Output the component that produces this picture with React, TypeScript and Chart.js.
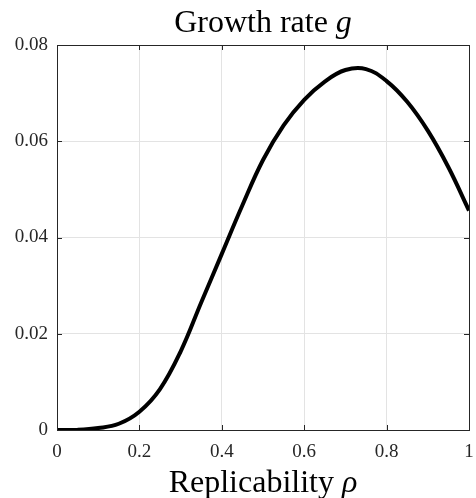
import React, { useEffect, useRef } from "react";
import { Chart, registerables } from "chart.js";

Chart.register(...registerables);

const rhoValues = [0, 0.05, 0.1, 0.15, 0.2, 0.25, 0.3, 0.35, 0.4, 0.45, 0.5, 0.55, 0.6, 0.65, 0.7, 0.75, 0.8, 0.85, 0.9, 0.95, 1.0];
const growthValues = [0, 0.00003, 0.0004, 0.0013, 0.0038, 0.0085, 0.0163, 0.0265, 0.0366, 0.0467, 0.0561, 0.0633, 0.0686, 0.0724, 0.0748, 0.075, 0.0725, 0.0682, 0.0622, 0.0546, 0.0456];
const xTicks = [0, 0.2, 0.4, 0.6, 0.8, 1];
const xTickLabels = ["0", "0.2", "0.4", "0.6", "0.8", "1"];
const yTicks = [0, 0.02, 0.04, 0.06, 0.08];
const yTickLabels = ["0", "0.02", "0.04", "0.06", "0.08"];
const titleMain = "Growth rate ";
const titleVar = "g";
const xLabelMain = "Replicability ";
const xLabelVar = "\u03C1";

const FONT = "'Liberation Serif', 'Times New Roman', serif";
const TEXT = "#262626";

const decorPlugin = {
  id: "decor",
  afterDraw(chart: any) {
    const { ctx, chartArea } = chart;
    const { left, right, top, bottom } = chartArea;
    ctx.save();
    ctx.strokeStyle = TEXT;
    ctx.lineWidth = 1;
    ctx.strokeRect(Math.round(left) + 0.5, Math.round(top) + 0.5, Math.round(right - left), Math.round(bottom - top));
    const xs = chart.scales.x;
    const ys = chart.scales.y;
    const tl = 5;
    ctx.beginPath();
    xTicks.forEach((v) => {
      const px = Math.round(xs.getPixelForValue(v)) + 0.5;
      ctx.moveTo(px, bottom);
      ctx.lineTo(px, bottom - tl);
      ctx.moveTo(px, top);
      ctx.lineTo(px, top + tl);
    });
    yTicks.forEach((v) => {
      const py = Math.round(ys.getPixelForValue(v)) + 0.5;
      ctx.moveTo(left, py);
      ctx.lineTo(left + tl, py);
      ctx.moveTo(right, py);
      ctx.lineTo(right - tl, py);
    });
    ctx.stroke();

    const cx = (left + right) / 2;
    const drawMixed = (a: string, b: string, y: number) => {
      ctx.fillStyle = "#000";
      ctx.textBaseline = "alphabetic";
      ctx.textAlign = "left";
      const fN = `32px ${FONT}`;
      const fI = `italic 32px ${FONT}`;
      ctx.font = fN;
      const wa = ctx.measureText(a).width;
      ctx.font = fI;
      const wb = ctx.measureText(b).width;
      const x0 = cx - (wa + wb) / 2;
      ctx.font = fN;
      ctx.fillText(a, x0, y);
      ctx.font = fI;
      ctx.fillText(b, x0 + wa, y);
    };
    drawMixed(titleMain, titleVar, 32);
    drawMixed(xLabelMain, xLabelVar, 492);
    ctx.restore();
  },
};

export default function App() {
  const ref = useRef<HTMLCanvasElement | null>(null);
  useEffect(() => {
    if (!ref.current) return;
    const chart = new Chart(ref.current, {
      type: "line",
      data: {
        datasets: [
          {
            data: rhoValues.map((x, i) => ({ x, y: growthValues[i] })),
            borderColor: "#000",
            borderWidth: 4,
            pointRadius: 0,
            tension: 0.4,
            fill: false,
          },
        ],
      },
      options: {
        animation: false,
        responsive: false,
        maintainAspectRatio: false,
        layout: { padding: { top: 45, right: 7, left: 0, bottom: 0 } },
        plugins: { legend: { display: false }, title: { display: false }, tooltip: { enabled: false } },
        scales: {
          x: {
            type: "linear",
            min: 0,
            max: 1,
            afterBuildTicks: (s: any) => {
              s.ticks = xTicks.map((v) => ({ value: v }));
            },
            afterFit: (s: any) => {
              s.height = 68;
              s.paddingLeft = 0;
              s.paddingRight = 0;
            },
            grid: { color: "#e3e3e3", lineWidth: 1, drawTicks: false },
            border: { display: false },
            ticks: {
              padding: 11,
              color: TEXT,
              font: { family: FONT, size: 19 },
              maxRotation: 0,
              callback: (v: any) => {
                const i = xTicks.findIndex((t) => Math.abs(t - v) < 1e-9);
                return i >= 0 ? xTickLabels[i] : "";
              },
            },
          },
          y: {
            type: "linear",
            min: 0,
            max: 0.08,
            afterBuildTicks: (s: any) => {
              s.ticks = yTicks.map((v) => ({ value: v }));
            },
            afterFit: (s: any) => {
              s.width = 57;
              s.paddingTop = 0;
              s.paddingBottom = 0;
            },
            grid: { color: "#e3e3e3", lineWidth: 1, drawTicks: false },
            border: { display: false },
            ticks: {
              padding: 9,
              color: TEXT,
              font: { family: FONT, size: 19 },
              callback: (v: any) => {
                const i = yTicks.findIndex((t) => Math.abs(t - v) < 1e-9);
                return i >= 0 ? yTickLabels[i] : "";
              },
            },
          },
        },
      },
      plugins: [decorPlugin],
    } as any);
    return () => chart.destroy();
  }, []);
  return (
    <div style={{ position: "fixed", left: 0, top: 0, width: 476, height: 498, background: "#fff" }}>
      <canvas ref={ref} width={476} height={498} style={{ width: 476, height: 498, display: "block" }} />
    </div>
  );
}
